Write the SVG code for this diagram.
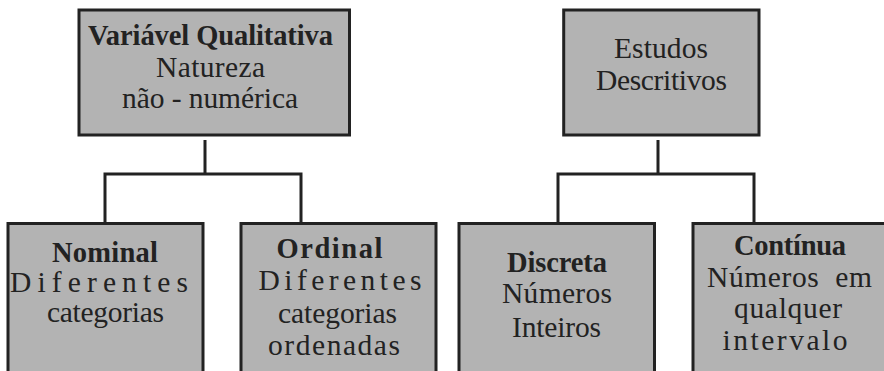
<svg xmlns="http://www.w3.org/2000/svg" width="884" height="371" viewBox="0 0 884 371">
<style>
.box{fill:#b3b3b3;stroke:#222;stroke-width:3}
.conn{fill:none;stroke:#222;stroke-width:3}
text{font-family:"Liberation Serif","DejaVu Serif",serif;font-size:29.5px;fill:#222;text-anchor:middle}
.b{font-weight:bold;font-size:28.5px}
</style>
<rect width="884" height="371" fill="#fff"/>
<g id="connectors">
<path class="conn" d="M205,140 V174 M105,174 H301 M105,172.5 V223 M301,172.5 V223"/>
<path class="conn" d="M658,140 V174 M558,174 H754 M558,172.5 V223 M754,172.5 V223"/>
</g>
<g id="qualitativa">
<rect class="box" x="79" y="10" width="270.5" height="125"/>
<text class="b" x="210.5" y="45" textLength="245" lengthAdjust="spacing">Variável Qualitativa</text>
<text x="210.5" y="77" textLength="109" lengthAdjust="spacing">Natureza</text>
<text x="210" y="108" textLength="176" lengthAdjust="spacing">não - numérica</text>
</g>
<g id="estudos">
<rect class="box" x="563.7" y="10" width="195.3" height="125"/>
<text x="661" y="58" textLength="94" lengthAdjust="spacing">Estudos</text>
<text x="661.5" y="90" textLength="131" lengthAdjust="spacing">Descritivos</text>
</g>
<g id="nominal">
<rect class="box" x="8" y="223.5" width="195" height="160"/>
<text class="b" x="105" y="262" textLength="106" lengthAdjust="spacing">Nominal</text>
<text x="99" y="292" textLength="178" lengthAdjust="spacing">Diferentes</text>
<text x="105.5" y="322" textLength="117" lengthAdjust="spacing">categorias</text>
</g>
<g id="ordinal">
<rect class="box" x="241" y="223.5" width="195" height="160"/>
<text class="b" x="329.5" y="258" textLength="106" lengthAdjust="spacing">Ordinal</text>
<text x="340" y="290" textLength="163" lengthAdjust="spacing">Diferentes</text>
<text x="337.5" y="323" textLength="119" lengthAdjust="spacing">categorias</text>
<text x="334" y="355" textLength="132" lengthAdjust="spacing">ordenadas</text>
</g>
<g id="discreta">
<rect class="box" x="459" y="223.5" width="195.5" height="160"/>
<text class="b" x="557" y="272" textLength="100" lengthAdjust="spacing">Discreta</text>
<text x="557" y="303" textLength="110" lengthAdjust="spacing">Números</text>
<text x="556.5" y="337" textLength="89" lengthAdjust="spacing">Inteiros</text>
</g>
<g id="continua">
<rect class="box" x="693" y="223.5" width="200" height="160"/>
<text class="b" x="790" y="255" textLength="112" lengthAdjust="spacing">Contínua</text>
<text x="789.5" y="287" textLength="165" lengthAdjust="spacing" xml:space="preserve">Números  em</text>
<text x="788" y="318" textLength="108" lengthAdjust="spacing">qualquer</text>
<text x="785" y="350" textLength="125" lengthAdjust="spacing">intervalo</text>
</g>
</svg>
